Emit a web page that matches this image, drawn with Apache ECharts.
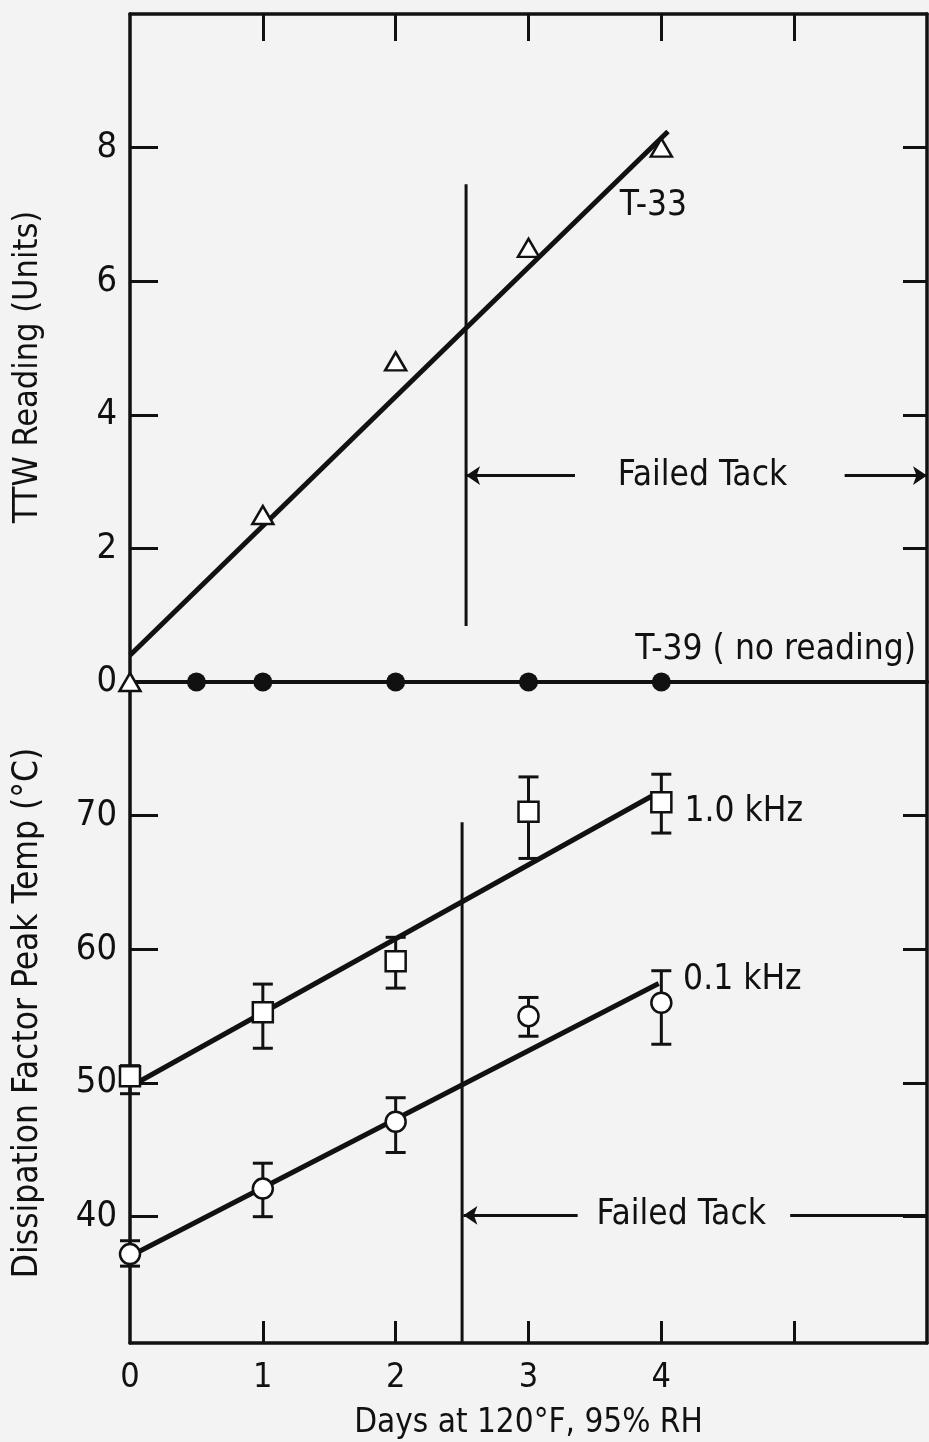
<!DOCTYPE html>
<html>
<head>
<meta charset="utf-8">
<script src="https://cdn.jsdelivr.net/npm/echarts@6/dist/echarts.min.js"></script>
<style>
html,body{margin:0;padding:0;background:#f3f3f3;}
#chart{width:929px;height:1442px;}
</style>
</head>
<body>
<div id="chart"></div>
<script>
// ---------------- data ----------------
const days = [0, 1, 2, 3, 4];
const xTickLabels = [0, 1, 2, 3, 4];
const xTicks = [1, 2, 3, 4, 5];

// Top panel: TTW reading
const t33 = [0, 2.5, 4.8, 6.5, 8.0];
const t33Fit = [[0, 0.4], [4.05, 8.24]];
const t39Days = [0.5, 1, 2, 3, 4];
const t39 = [0, 0, 0, 0, 0];
const topTickLabels = [0, 2, 4, 6, 8];
const topTicks = [2, 4, 6, 8];

// Bottom panel: dissipation factor peak temperature
const khz10 = [50.5, 55.3, 59.1, 70.3, 71.0];
const khz10Low = [49.2, 52.6, 57.1, 66.8, 68.7];
const khz10High = [51.3, 57.4, 60.9, 72.9, 73.1];
const khz10Fit = [[0.05, 50.0], [3.97, 71.7]];
const khz01 = [37.2, 42.1, 47.1, 55.0, 56.0];
const khz01Low = [36.3, 40.0, 44.8, 53.5, 52.9];
const khz01High = [38.2, 44.0, 48.9, 56.4, 58.4];
const khz01Fit = [[0.05, 37.3], [3.98, 57.45]];
const bottomTicks = [40, 50, 60, 70];

// Failed tack markers
const failTopLine = [[2.53, 0.84], [2.53, 7.45]];
const failTopArrowLeft = [[3.35, 3.09], [2.53, 3.09]];
const failTopArrowRight = [[5.38, 3.09], [6.0, 3.09]];
const failBotLine = [[2.5, 30.55], [2.5, 69.5]];
const failBotArrowLeft = [[3.37, 40.1], [2.51, 40.1]];
const failBotLineRight = [[4.97, 40.1], [6.0, 40.1]];

// text annotations [x, y, text]
const topNotes = [[3.94, 7.12, 'T-33'], [4.31, 3.09, 'Failed Tack'], [4.86, 0.48, 'T-39 ( no reading)']];
const botNotes = [[4.62, 70.25, '1.0 kHz'], [4.61, 57.7, '0.1 kHz'], [4.15, 40.1, 'Failed Tack']];

// ---------------- chart ----------------
const FONT = "'Liberation Sans Narrow','DejaVu Sans Condensed','Noto Sans',sans-serif";
const INK = '#111';
const chart = echarts.init(document.getElementById('chart'), null, {renderer: 'canvas'});

const zipXY = (xs, ys) => xs.map((x, i) => [x, ys[i]]);
const errData = (lo, hi) => days.map((d, i) => [d, lo[i], hi[i]]);

function errRender(params, api) {
  const x = api.value(0), lo = api.value(1), hi = api.value(2);
  const a = api.coord([x, lo]), b = api.coord([x, hi]);
  const w = 10;
  const st = {stroke: INK, lineWidth: 3};
  return {type: 'group', children: [
    {type: 'line', shape: {x1: a[0], y1: a[1], x2: b[0], y2: b[1]}, style: st},
    {type: 'line', shape: {x1: a[0] - w, y1: a[1], x2: a[0] + w, y2: a[1]}, style: st},
    {type: 'line', shape: {x1: b[0] - w, y1: b[1], x2: b[0] + w, y2: b[1]}, style: st}
  ]};
}

function lineSeries(data, xi, yi, width) {
  return {type: 'line', data: data, xAxisIndex: xi, yAxisIndex: yi, symbol: 'none',
    lineStyle: {color: INK, width: width}, silent: true, animation: false, z: 3};
}
function arrowSeries(data, xi, yi, withArrow) {
  return {type: 'lines', coordinateSystem: 'cartesian2d', xAxisIndex: xi, yAxisIndex: yi,
    data: [{coords: data}], symbol: withArrow ? ['none', 'arrow'] : ['none', 'none'], symbolSize: 14,
    lineStyle: {color: INK, width: 3, opacity: 1}, silent: true, animation: false, z: 3};
}
function noteSeries(notes, xi, yi) {
  return {type: 'scatter', xAxisIndex: xi, yAxisIndex: yi, symbolSize: 0, silent: true, animation: false,
    itemStyle: {opacity: 1},
    data: notes.map(n => ({value: [n[0], n[1]], name: n[2]})),
    label: {show: true, position: 'inside', formatter: p => p.name, color: INK,
      fontFamily: FONT, fontSize: 35}};
}

const axisLineStyle = {color: INK, width: 3.5};
const tickStyle = {color: INK, width: 3};

const option = {
  backgroundColor: '#f3f3f3',
  animation: false,
  grid: [
    {left: 130, top: 14, width: 797, height: 668},
    {left: 130, top: 682, width: 797, height: 661}
  ],
  xAxis: [
    {gridIndex: 0, type: 'value', min: 0, max: 6, position: 'bottom',
      axisLine: {show: true, onZero: false, lineStyle: {color: INK, width: 4}},
      axisTick: {show: false}, axisLabel: {show: false}, splitLine: {show: false}},
    {gridIndex: 0, type: 'value', min: 0, max: 6, position: 'top',
      axisLine: {show: true, onZero: false, lineStyle: axisLineStyle},
      axisTick: {show: true, inside: true, length: 27, lineStyle: tickStyle, customValues: xTicks},
      axisLabel: {show: false}, splitLine: {show: false}},
    {gridIndex: 1, type: 'value', min: 0, max: 6, position: 'bottom',
      axisLine: {show: true, onZero: false, lineStyle: axisLineStyle},
      axisTick: {show: true, inside: true, length: 22, lineStyle: tickStyle, customValues: xTicks},
      axisLabel: {show: true, customValues: xTickLabels, margin: 18, color: INK, fontFamily: FONT, fontSize: 34},
      splitLine: {show: false},
      name: 'Days at 120°F, 95% RH', nameLocation: 'middle', nameGap: 64,
      nameTextStyle: {color: INK, fontFamily: FONT, fontSize: 33}}
  ],
  yAxis: [
    {gridIndex: 0, type: 'value', min: 0, max: 10, position: 'left',
      axisLine: {show: true, onZero: false, lineStyle: axisLineStyle},
      axisTick: {show: true, inside: true, length: 28, lineStyle: tickStyle, customValues: topTicks},
      axisLabel: {show: true, customValues: topTickLabels, margin: 13, color: INK, fontFamily: FONT, fontSize: 36},
      splitLine: {show: false}},
    {gridIndex: 0, type: 'value', min: 0, max: 10, position: 'right',
      axisLine: {show: true, onZero: false, lineStyle: axisLineStyle},
      axisTick: {show: true, inside: true, length: 24, lineStyle: tickStyle, customValues: topTicks},
      axisLabel: {show: false}, splitLine: {show: false}},
    {gridIndex: 1, type: 'value', min: 30.55, max: 80, position: 'left',
      axisLine: {show: true, onZero: false, lineStyle: axisLineStyle},
      axisTick: {show: true, inside: true, length: 28, lineStyle: tickStyle, customValues: bottomTicks},
      axisLabel: {show: true, customValues: bottomTicks, margin: 13, color: INK, fontFamily: FONT, fontSize: 36},
      splitLine: {show: false}},
    {gridIndex: 1, type: 'value', min: 30.55, max: 80, position: 'right',
      axisLine: {show: true, onZero: false, lineStyle: axisLineStyle},
      axisTick: {show: true, inside: true, length: 24, lineStyle: tickStyle, customValues: bottomTicks},
      axisLabel: {show: false}, splitLine: {show: false}}
  ],
  graphic: [
    {type: 'text', x: 28, y: 367, rotation: Math.PI / 2,
      style: {text: 'TTW Reading (Units)', fill: INK, font: '34px ' + FONT, align: 'center', verticalAlign: 'middle'}},
    {type: 'text', x: 28, y: 1013, rotation: Math.PI / 2,
      style: {text: 'Dissipation Factor Peak Temp (°C)', fill: INK, font: '35px ' + FONT, align: 'center', verticalAlign: 'middle'}}
  ],
  series: [
    // top panel
    lineSeries(t33Fit, 0, 0, 5),
    lineSeries(failTopLine, 0, 0, 3),
    arrowSeries(failTopArrowLeft, 0, 0, true),
    arrowSeries(failTopArrowRight, 0, 0, true),
    {type: 'scatter', xAxisIndex: 0, yAxisIndex: 0, data: zipXY(days, t33), symbol: 'triangle', symbolSize: [21, 18],
      itemStyle: {color: '#fff', borderColor: INK, borderWidth: 2.5, opacity: 1}, silent: true, z: 5},
    {type: 'scatter', xAxisIndex: 0, yAxisIndex: 0, data: zipXY(t39Days, t39), symbol: 'circle', symbolSize: 19,
      itemStyle: {color: INK, opacity: 1}, silent: true, z: 5},
    noteSeries(topNotes, 0, 0),
    // bottom panel
    lineSeries(khz10Fit, 2, 2, 5),
    lineSeries(khz01Fit, 2, 2, 5),
    lineSeries(failBotLine, 2, 2, 3),
    arrowSeries(failBotArrowLeft, 2, 2, true),
    arrowSeries(failBotLineRight, 2, 2, false),
    {type: 'custom', xAxisIndex: 2, yAxisIndex: 2, data: errData(khz10Low, khz10High), renderItem: errRender, silent: true, z: 4},
    {type: 'custom', xAxisIndex: 2, yAxisIndex: 2, data: errData(khz01Low, khz01High), renderItem: errRender, silent: true, z: 4},
    {type: 'scatter', xAxisIndex: 2, yAxisIndex: 2, data: zipXY(days, khz10), symbol: 'rect', symbolSize: 20,
      itemStyle: {color: '#fff', borderColor: INK, borderWidth: 2.5, opacity: 1}, silent: true, z: 6},
    {type: 'scatter', xAxisIndex: 2, yAxisIndex: 2, data: zipXY(days, khz01), symbol: 'circle', symbolSize: 20,
      itemStyle: {color: '#fff', borderColor: INK, borderWidth: 2.5, opacity: 1}, silent: true, z: 6},
    noteSeries(botNotes, 2, 2)
  ]
};
chart.setOption(option);
</script>
</body>
</html>
